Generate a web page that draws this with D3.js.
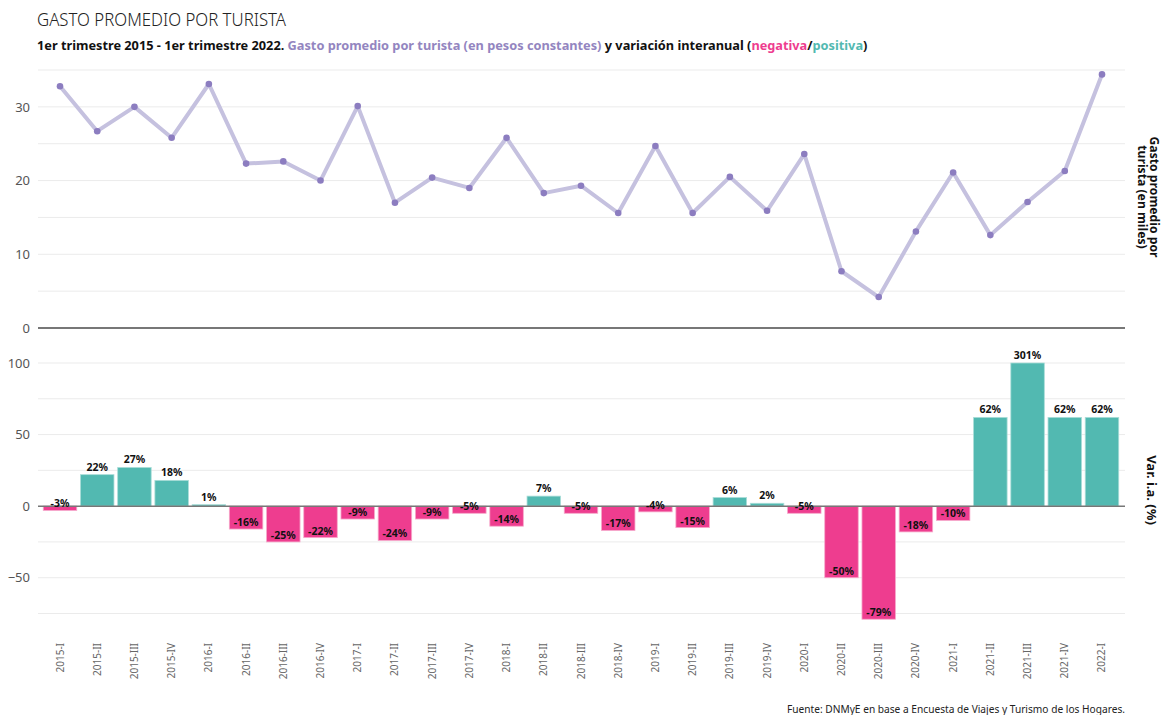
<!DOCTYPE html>
<html><head><meta charset="utf-8">
<script src="https://cdn.jsdelivr.net/npm/d3@7"></script>
<style>
body{margin:0;background:#fff;}
svg{font-family:"Noto Sans","Open Sans",sans-serif;}
</style></head>
<body>
<svg id="c" width="1164" height="715"></svg>
<script>
const categories = ["2015-I","2015-II","2015-III","2015-IV","2016-I","2016-II","2016-III","2016-IV","2017-I","2017-II","2017-III","2017-IV","2018-I","2018-II","2018-III","2018-IV","2019-I","2019-II","2019-III","2019-IV","2020-I","2020-II","2020-III","2020-IV","2021-I","2021-II","2021-III","2021-IV","2022-I"];
const gasto = [32.8,26.7,30.0,25.8,33.1,22.3,22.6,20.0,30.1,17.0,20.4,19.0,25.8,18.3,19.3,15.6,24.7,15.6,20.5,15.9,23.6,7.7,4.2,13.1,21.1,12.6,17.1,21.3,34.4];
const variacion = [-3,22,27,18,1,-16,-25,-22,-9,-24,-9,-5,-14,7,-5,-17,-4,-15,6,2,-5,-50,-79,-18,-10,62,301,62,62];
const topTicks = [0,10,20,30];
const topGrid = [5,10,15,20,25,30,35];
const botTicks = [-50,0,50,100];
const botGrid = [-75,-50,-25,25,50,75,100];

const svg = d3.select("#c");
const gL = 38, gR = 1125;
const x = d3.scaleBand().domain(categories).range([41.4,1120.6]).paddingInner(0.1).paddingOuter(0.05);
const yT = d3.scaleLinear().domain([0,35]).range([328,70]);
const yB = d3.scaleLinear().domain([-75,100]).range([613.5,363]);
const pink = "#ee3d8f", teal = "#52b9b1", lav = "#c5c1df", dot = "#8c7dc0";

// Title
svg.append("text").attr("x",37).attr("y",26).attr("font-size",18.5).attr("fill","#222").attr("font-weight",300)
  .attr("textLength",249).attr("lengthAdjust","spacingAndGlyphs").text("GASTO PROMEDIO POR TURISTA");
const st = svg.append("text").attr("x",37).attr("y",50).attr("font-size",12.75).attr("font-weight",700).attr("fill","#111");
st.append("tspan").text("1er trimestre 2015 - 1er trimestre 2022. ");
st.append("tspan").attr("fill","#9385c0").text("Gasto promedio por turista (en pesos constantes)");
st.append("tspan").text(" y variación interanual (");
st.append("tspan").attr("fill",pink).text("negativa");
st.append("tspan").text("/");
st.append("tspan").attr("fill",teal).text("positiva");
st.append("tspan").text(")");

// Top grid
svg.append("g").selectAll("line").data(topGrid).join("line")
  .attr("x1",gL).attr("x2",gR).attr("y1",d=>yT(d)).attr("y2",d=>yT(d))
  .attr("stroke","#ebebeb").attr("stroke-width",1);
const axT = svg.append("g").attr("transform",`translate(${gL},0)`)
  .call(d3.axisLeft(yT).tickValues(topTicks).tickSize(0).tickPadding(8));
axT.select(".domain").remove();
axT.selectAll("text").attr("font-size",13).attr("fill","#555").attr("font-family","Noto Sans, sans-serif");

// Bottom grid
svg.append("g").selectAll("line").data(botGrid).join("line")
  .attr("x1",gL).attr("x2",gR).attr("y1",d=>yB(d)).attr("y2",d=>yB(d))
  .attr("stroke","#ebebeb").attr("stroke-width",1);
const axB = svg.append("g").attr("transform",`translate(${gL},0)`)
  .call(d3.axisLeft(yB).tickValues(botTicks).tickSize(0).tickPadding(8));
axB.select(".domain").remove();
axB.selectAll("text").attr("font-size",13).attr("fill","#555").attr("font-family","Noto Sans, sans-serif");

// Bars
const clip = v => Math.max(-85, Math.min(100, v));
svg.append("g").selectAll("rect").data(categories.map((c,i)=>({c,v:variacion[i]}))).join("rect")
  .attr("x",d=>x(d.c)).attr("width",x.bandwidth())
  .attr("y",d=>yB(Math.max(0,clip(d.v))))
  .attr("height",d=>Math.abs(yB(clip(d.v))-yB(0)))
  .attr("fill",d=>d.v<0?pink:teal)
  .attr("stroke",d=>d.v<0?"#f6a9cb":"#a9ddd8").attr("stroke-width",0.8);

// zero lines
svg.append("line").attr("x1",gL).attr("x2",gR).attr("y1",yB(0)).attr("y2",yB(0)).attr("stroke","#777").attr("stroke-width",1.5);
svg.append("line").attr("x1",gL).attr("x2",gR).attr("y1",yT(0)).attr("y2",yT(0)).attr("stroke","#777").attr("stroke-width",2.2);

// Bar labels
svg.append("g").selectAll("text").data(categories.map((c,i)=>({c,v:variacion[i]}))).join("text")
  .attr("x",d=>x(d.c)+x.bandwidth()/2)
  .attr("y",d=>d.v<0? yB(d.v)-3 : yB(clip(d.v))-4)
  .attr("text-anchor","middle").attr("font-size",10.5).attr("font-weight",700).attr("fill","#111")
  .text(d=>d.v+"%");

// Line
const cx = c => x(c)+x.bandwidth()/2;
svg.append("path").datum(categories.map((c,i)=>({c,v:gasto[i]})))
  .attr("d",d3.line().x(d=>cx(d.c)).y(d=>yT(d.v)))
  .attr("fill","none").attr("stroke",lav).attr("stroke-width",4).attr("stroke-linejoin","round");
svg.append("g").selectAll("circle").data(categories.map((c,i)=>({c,v:gasto[i]}))).join("circle")
  .attr("cx",d=>cx(d.c)).attr("cy",d=>yT(d.v)).attr("r",3.3).attr("fill",dot);

// X labels
svg.append("g").selectAll("text").data(categories).join("text")
  .attr("transform",d=>`translate(${cx(d)+3.5},643) rotate(-90)`)
  .attr("text-anchor","end").attr("font-size",10).attr("fill","#666").text(d=>d);

// Right titles
const rt = svg.append("text").attr("transform","translate(1148,197) rotate(90)")
  .attr("text-anchor","middle").attr("font-size",12.2).attr("font-weight",700).attr("fill","#111");
rt.append("tspan").attr("x",0).attr("dy","-0.15em").text("Gasto promedio por");
rt.append("tspan").attr("x",0).attr("dy","1.0em").text("turista (en miles)");
svg.append("text").attr("transform","translate(1147,490) rotate(90)")
  .attr("text-anchor","middle").attr("font-size",13).attr("font-weight",700).attr("fill","#111").text("Var. i.a. (%)");

// Footer
svg.append("text").attr("x",1125).attr("y",713).attr("text-anchor","end").attr("font-size",10.5).attr("fill","#222")
  .attr("textLength",338).attr("lengthAdjust","spacingAndGlyphs")
  .text("Fuente: DNMyE en base a Encuesta de Viajes y Turismo de los Hogares.");
</script>
</body></html>
